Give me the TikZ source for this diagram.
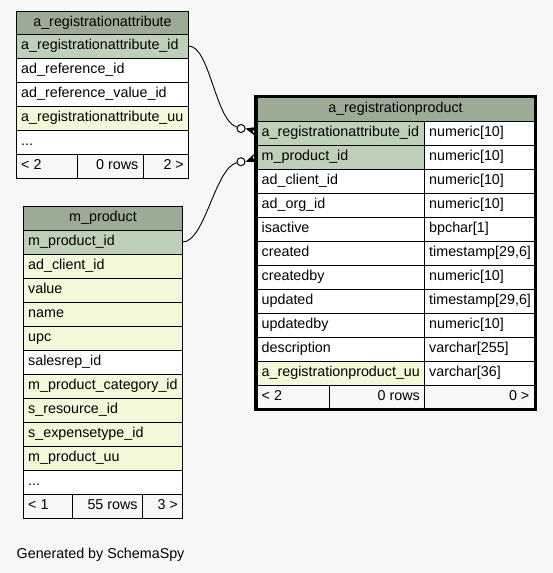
\documentclass[tikz,border=0pt]{standalone}
\usepackage{fontspec}
\setmainfont{Liberation Sans}
\definecolor{hdr}{HTML}{9BAB96}
\definecolor{pkc}{HTML}{BED1B8}
\definecolor{idx}{HTML}{F4F7DA}
\definecolor{bgc}{HTML}{F7F7F7}
\newcommand{\tf}{\fontsize{14.3}{17}\selectfont}
% \trow{x1}{x2}{ytop}{fill}{text}{name}
\newcommand{\trow}[6]{%
  \filldraw[cellline, fill=#4] (#1,#3) rectangle (#2,#3+24);
  \node[txtl] (#6) at (#1+4.5,#3+15.5) {#5};}
\tikzset{
  cellline/.style={draw=black, line width=1pt},
  txtl/.style={anchor=base west, inner sep=0pt, font=\tf},
  txtr/.style={anchor=base east, inner sep=0pt, font=\tf},
  txtc/.style={anchor=base, inner sep=0pt, font=\tf},
  edge/.style={draw=black, line width=0.9pt},
  odot/.style={circle, draw=black, fill=white, line width=1pt, inner sep=0pt, minimum size=8pt},
}
\begin{document}
\begin{tikzpicture}[x=1pt, y=-1pt]
\fill[bgc] (0,0) rectangle (553,573);
\useasboundingbox (0,0) rectangle (553,573);

% ---------- a_registrationattribute ----------
\filldraw[cellline, fill=hdr] (16.5,11) rectangle (188.5,34);
\node[txtc] (ra-h) at (102.5,26) {a\_registrationattribute};
\trow{16.5}{188.5}{34}{pkc}{a\_registrationattribute\_id}{ra-1}
\trow{16.5}{188.5}{58}{white}{ad\_reference\_id}{ra-2}
\trow{16.5}{188.5}{82}{white}{ad\_reference\_value\_id}{ra-3}
\trow{16.5}{188.5}{106}{idx}{a\_registrationattribute\_uu}{ra-4}
\trow{16.5}{188.5}{130}{white}{...}{ra-5}
\filldraw[cellline, fill=bgc] (16.5,154) rectangle (77,178);
\filldraw[cellline, fill=bgc] (77,154) rectangle (143,178);
\filldraw[cellline, fill=bgc] (143,154) rectangle (188.5,178);
\node[txtl] (ra-f1) at (21,169.5) {< 2};
\node[txtr] (ra-f2) at (138.5,169.5) {0 rows};
\node[txtr] (ra-f3) at (184,169.5) {2 >};

% ---------- m_product ----------
\filldraw[cellline, fill=hdr] (23.5,206) rectangle (182.5,230);
\node[txtc] (mp-h) at (103,221.5) {m\_product};
\trow{23.5}{182.5}{230}{pkc}{m\_product\_id}{mp-1}
\trow{23.5}{182.5}{254}{idx}{ad\_client\_id}{mp-2}
\trow{23.5}{182.5}{278}{idx}{value}{mp-3}
\trow{23.5}{182.5}{302}{idx}{name}{mp-4}
\trow{23.5}{182.5}{326}{idx}{upc}{mp-5}
\trow{23.5}{182.5}{350}{white}{salesrep\_id}{mp-6}
\trow{23.5}{182.5}{374}{idx}{m\_product\_category\_id}{mp-7}
\trow{23.5}{182.5}{398}{idx}{s\_resource\_id}{mp-8}
\trow{23.5}{182.5}{422}{idx}{s\_expensetype\_id}{mp-9}
\trow{23.5}{182.5}{446}{idx}{m\_product\_uu}{mp-10}
\trow{23.5}{182.5}{470}{white}{...}{mp-11}
\filldraw[cellline, fill=bgc] (23.5,494) rectangle (72.7,518);
\filldraw[cellline, fill=bgc] (72.7,494) rectangle (142.3,518);
\filldraw[cellline, fill=bgc] (142.3,494) rectangle (182.5,518);
\node[txtl] (mp-f1) at (28,509.5) {< 1};
\node[txtr] (mp-f2) at (137.8,509.5) {55 rows};
\node[txtr] (mp-f3) at (178,509.5) {3 >};

% ---------- a_registrationproduct ----------
\filldraw[cellline, fill=hdr] (257,97) rectangle (534,121);
\node[txtc] (rp-h) at (395.5,112.5) {a\_registrationproduct};
\trow{257}{424.5}{121}{pkc}{a\_registrationattribute\_id}{rp-1}
\trow{424.5}{534}{121}{white}{numeric[10]}{rp-1t}
\trow{257}{424.5}{145}{pkc}{m\_product\_id}{rp-2}
\trow{424.5}{534}{145}{white}{numeric[10]}{rp-2t}
\trow{257}{424.5}{169}{white}{ad\_client\_id}{rp-3}
\trow{424.5}{534}{169}{white}{numeric[10]}{rp-3t}
\trow{257}{424.5}{193}{white}{ad\_org\_id}{rp-4}
\trow{424.5}{534}{193}{white}{numeric[10]}{rp-4t}
\trow{257}{424.5}{217}{white}{isactive}{rp-5}
\trow{424.5}{534}{217}{white}{bpchar[1]}{rp-5t}
\trow{257}{424.5}{241}{white}{created}{rp-6}
\trow{424.5}{534}{241}{white}{timestamp[29,6]}{rp-6t}
\trow{257}{424.5}{265}{white}{createdby}{rp-7}
\trow{424.5}{534}{265}{white}{numeric[10]}{rp-7t}
\trow{257}{424.5}{289}{white}{updated}{rp-8}
\trow{424.5}{534}{289}{white}{timestamp[29,6]}{rp-8t}
\trow{257}{424.5}{313}{white}{updatedby}{rp-9}
\trow{424.5}{534}{313}{white}{numeric[10]}{rp-9t}
\trow{257}{424.5}{337}{white}{description}{rp-10}
\trow{424.5}{534}{337}{white}{varchar[255]}{rp-10t}
\trow{257}{424.5}{361}{idx}{a\_registrationproduct\_uu}{rp-11}
\trow{424.5}{534}{361}{white}{varchar[36]}{rp-11t}
\filldraw[cellline, fill=bgc] (257,385) rectangle (329,408);
\filldraw[cellline, fill=bgc] (329,385) rectangle (424.5,408);
\filldraw[cellline, fill=bgc] (424.5,385) rectangle (534,408);
\node[txtl] (rp-f1) at (261.5,400.5) {< 2};
\node[txtr] (rp-f2) at (420,400.5) {0 rows};
\node[txtr] (rp-f3) at (529.5,400.5) {0 >};
\draw[black, line width=3pt] (255.5,96.5) rectangle (535.5,409.5);

% ---------- connectors ----------
\coordinate (ra-pk) at (188.5,46);
\coordinate (mp-pk) at (182.5,242);
\node[odot] (o1) at (241,128.5) {};
\node[odot] (o2) at (241,161.7) {};
\draw[edge] (ra-pk) .. controls (210,46) and (215,120) .. (o1);
\draw[edge] (mp-pk) .. controls (205,242) and (215,168) .. (o2);
\coordinate (rp-a) at (256,133);
\coordinate (rp-m) at (256,157);
\fill[black] (o1.east) -- (256,127) -- (252.5,131.5) -- (256,136.5) -- cycle;
\fill[black] (o2.east) -- (256,152.5) -- (252.5,157.5) -- (256,162) -- cycle;

\node[txtl] (gen) at (16.5,558.3) {Generated by SchemaSpy};
\end{tikzpicture}
\end{document}
